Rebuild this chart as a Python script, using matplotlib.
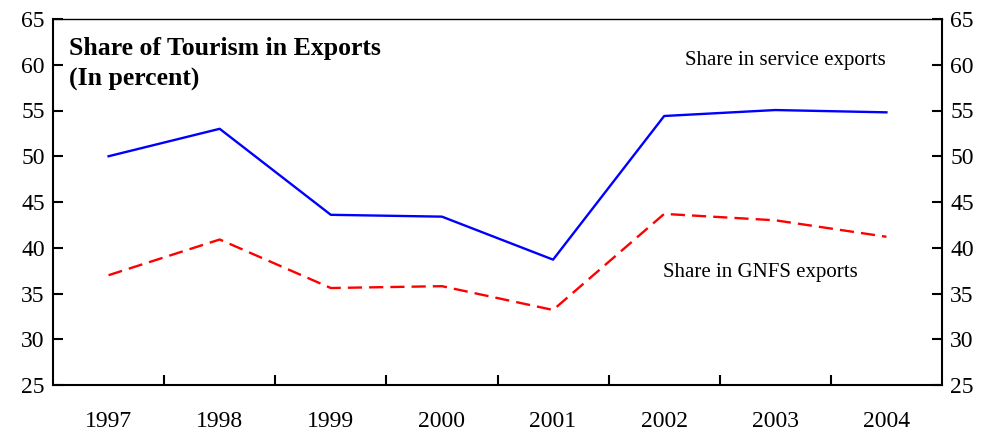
import matplotlib.pyplot as plt
import numpy as np

plt.rcParams['font.family'] = ['Liberation Serif', 'DejaVu Serif']

# data
years = ['1997', '1998', '1999', '2000', '2001', '2002', '2003', '2004']
service_share = [50.0, 53.0, 43.6, 43.4, 38.7, 54.4, 55.05, 54.8]
gnfs_share = [37.0, 40.9, 35.6, 35.8, 33.2, 43.7, 43.0, 41.2]

x = np.arange(len(years))

fig = plt.figure(figsize=(9.91, 4.38), dpi=100)
ax = fig.add_axes([53 / 991, 1 - 385 / 438, (942 - 53) / 991, (385 - 19) / 438])

ax.plot(x, service_share, color='#0000ff', lw=1.7)
ax.plot(x, gnfs_share, color='#ff0000', lw=1.7, ls=(0, (6, 3)))

ax.set_xlim(-0.5, len(years) - 0.5)
ax.set_ylim(25, 65)
ax.set_yticks(range(25, 66, 5))

# year labels at centres, tick marks at the boundaries
ax.set_xticks(x)
ax.set_xticklabels(years)
ax.set_xticks(np.arange(0.5, len(years) - 1, 1), minor=True)
ax.tick_params(axis='x', which='major', length=0, pad=19, labelsize=17)
ax.tick_params(axis='x', which='minor', direction='in', length=7, width=1.5)
ax.tick_params(axis='y', direction='in', length=7, width=1.5, labelsize=17,
               left=True, right=True, labelleft=True, labelright=True, pad=6)

for s in ax.spines.values():
    s.set_linewidth(1.5)
ax.spines['top'].set_linewidth(1.0)

ax.text(0.018, 0.95, 'Share of Tourism in Exports\n(In percent)', transform=ax.transAxes,
        fontsize=18.5, fontweight='bold', va='top', ha='left', linespacing=1.38)
ax.text(6.09, 60.5, 'Share in service exports', fontsize=15, ha='center', va='center')
ax.text(5.87, 37.3, 'Share in GNFS exports', fontsize=15, ha='center', va='center')

plt.savefig('out.png', dpi=100)
